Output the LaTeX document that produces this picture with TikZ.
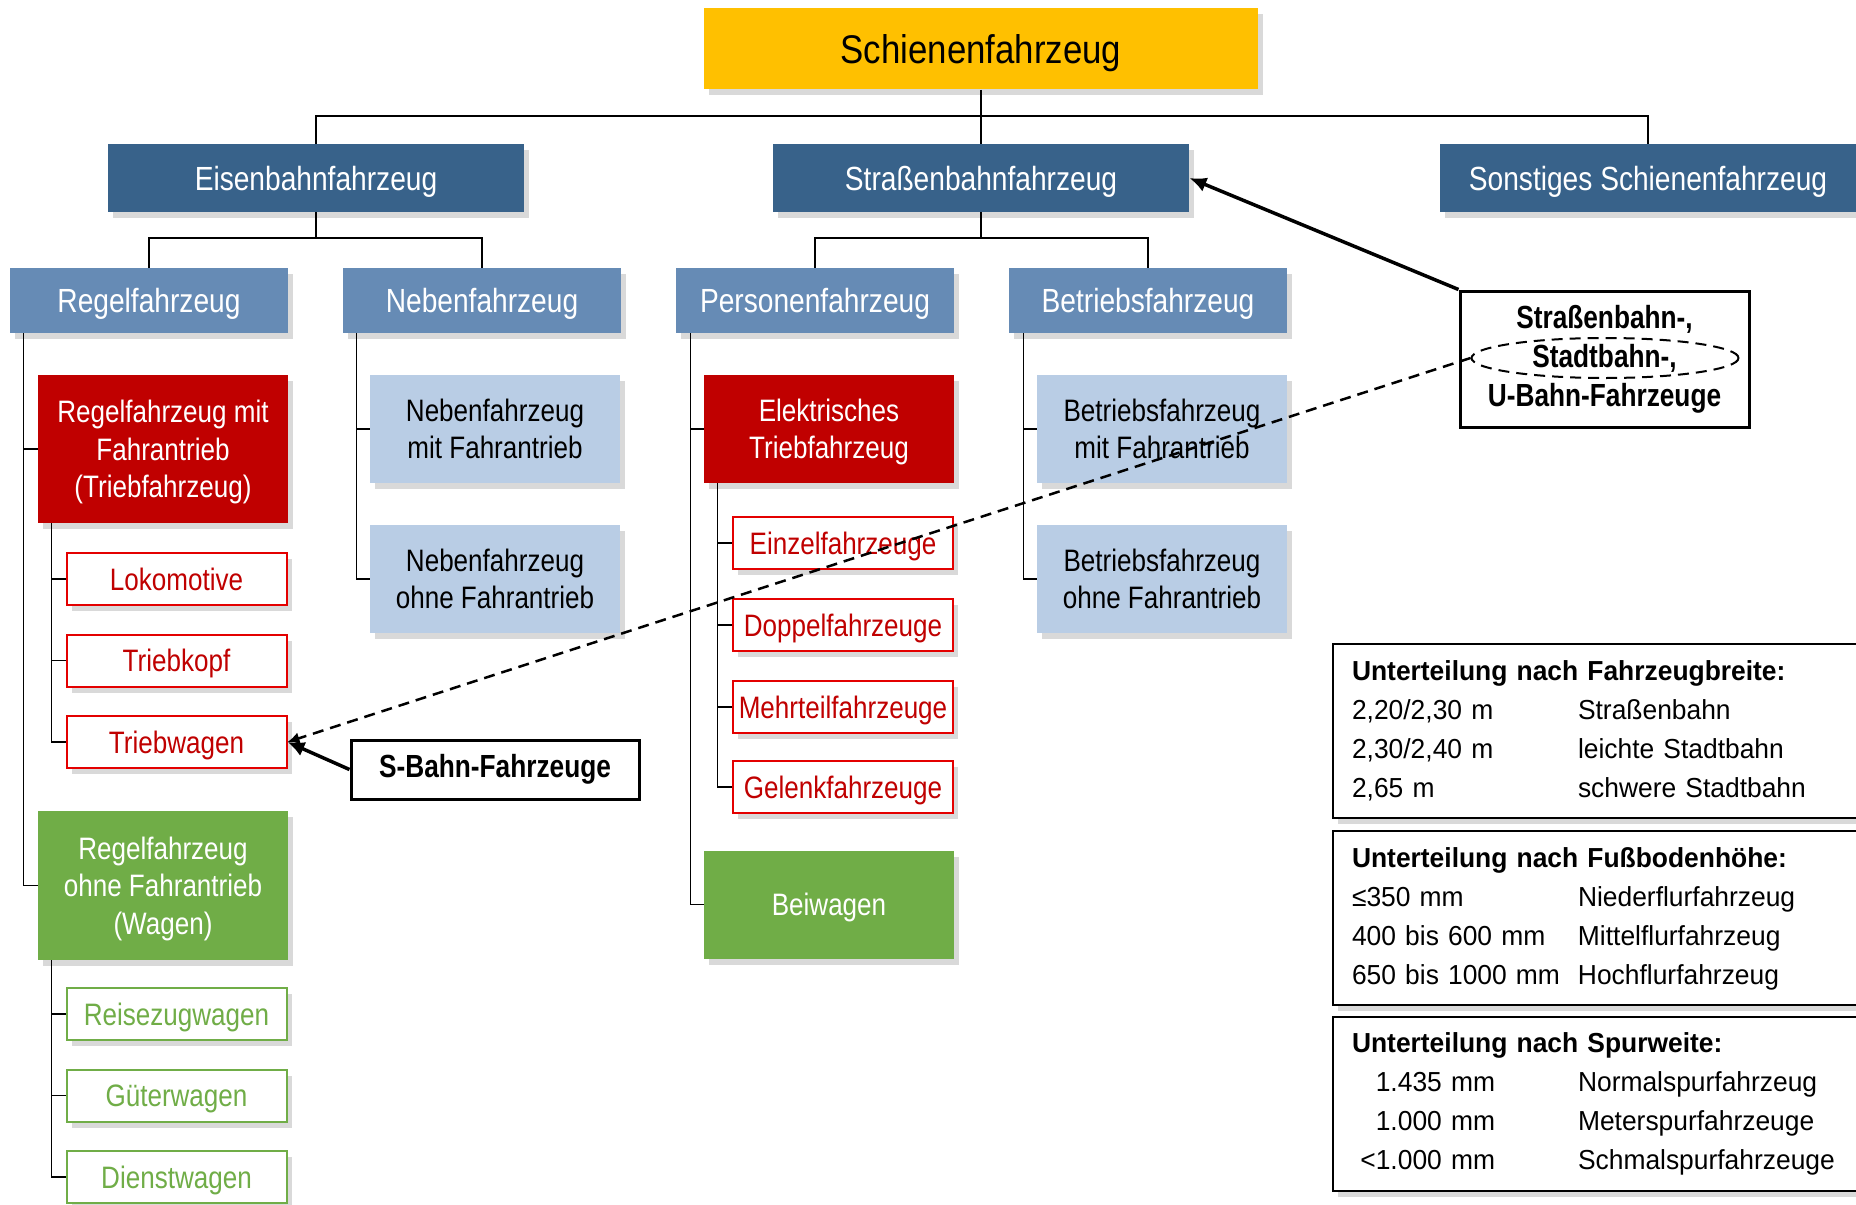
\documentclass[tikz,border=0pt]{standalone}
\usepackage{fontspec}
\setmainfont{Liberation Sans}
\newfontfamily\rootfont[FakeStretch=0.87]{Liberation Sans}
\newfontfamily\boxfont[FakeStretch=0.84]{Liberation Sans}
\newfontfamily\notefont[FakeStretch=0.82]{Liberation Sans}
\newfontfamily\legendfont[FakeStretch=0.96, WordSpace=0.8]{Liberation Sans}
\usetikzlibrary{positioning,arrows,arrows.meta,calc,shapes,shadows}

\definecolor{rootyellow}{RGB}{255,192,0}
\definecolor{darkblue}{RGB}{56,98,138}
\definecolor{midblue}{RGB}{102,139,181}
\definecolor{paleblue}{RGB}{185,205,229}
\definecolor{motorred}{RGB}{192,0,0}
\definecolor{itemred}{RGB}{228,0,0}
\definecolor{wagongreen}{RGB}{112,173,71}

\tikzset{
    >={Latex[length=8.5pt, width=7.5pt]},
    box/.style = {
        shape=rectangle,
        inner sep=0pt,
        align=center,
        text depth=0pt,
        drop shadow={shadow xshift=2.5pt, shadow yshift=-3pt, opacity=0.3}
    },
    rootbox/.style = {
        box,
        fill=rootyellow,
        minimum width=277pt,
        minimum height=40.5pt,
        font=\rootfont\fontsize{20}{24}\selectfont
    },
    mainbox/.style = {
        box,
        fill=darkblue,
        text=white,
        minimum width=208pt,
        minimum height=34pt,
        font=\boxfont\fontsize{16.75}{20}\selectfont
    },
    branchbox/.style = {
        box,
        fill=midblue,
        text=white,
        minimum width=139pt,
        minimum height=32.5pt,
        font=\boxfont\fontsize{16.75}{20}\selectfont
    },
    motorbox/.style = {
        box,
        fill=motorred,
        text=white,
        minimum width=125pt,
        minimum height=54pt,
        font=\boxfont\fontsize{15.5}{18.75}\selectfont
    },
    wagonbox/.style = {
        box,
        fill=wagongreen,
        text=white,
        minimum width=125pt,
        minimum height=54pt,
        font=\boxfont\fontsize{15.5}{18.75}\selectfont
    },
    palebox/.style = {
        box,
        fill=paleblue,
        minimum width=125pt,
        minimum height=54pt,
        font=\boxfont\fontsize{15.5}{18.75}\selectfont
    },
    motoritem/.style = {
        box,
        draw=itemred,
        line width=1pt,
        fill=white,
        text=motorred,
        minimum width=110pt,
        minimum height=26pt,
        font=\boxfont\fontsize{15.5}{18.75}\selectfont
    },
    wagonitem/.style = {
        motoritem,
        draw=wagongreen,
        text=wagongreen
    },
    notebox/.style = {
        draw,
        shape=rectangle,
        line width=1.5pt,
        fill=white,
        inner sep=0pt,
        align=center,
        font=\notefont\bfseries\fontsize{16}{19.5}\selectfont
    },
    legendbox/.style = {
        draw,
        shape=rectangle,
        line width=1pt,
        fill=white,
        anchor=north west,
        minimum width=274pt,
        minimum height=87pt,
        text width=255pt,
        inner xsep=9.5pt,
        inner ysep=0pt,
        align=left,
        drop shadow={shadow xshift=2.5pt, shadow yshift=-3pt, opacity=0.3},
        font=\legendfont\fontsize{13.75}{19.5}\selectfont
    },
    link/.style = {
        draw,
        line width=0.8pt
    },
    hint/.style = {
        dash pattern=on 5.5pt off 3.5pt
    }
}

\begin{document}
\begin{tikzpicture}[x=0.5pt, y=-0.5pt]
            \useasboundingbox (0,0) rectangle (1856,1204);

            \node[rootbox] (schiene) at (981,49) {Schienenfahrzeug};
            \node[mainbox] (eisen) at (316,178) {Eisenbahnfahrzeug};
            \node[mainbox] (strassen) at (981,178) {Straßenbahnfahrzeug};
            \node[mainbox] (sonst) at (1648,178) {Sonstiges Schienenfahrzeug};

            \node[branchbox] (regel) at (149,300.5) {Regelfahrzeug};
            \node[branchbox] (neben) at (482,300.5) {Nebenfahrzeug};
            \node[branchbox] (personen) at (815,300.5) {Personenfahrzeug};
            \node[branchbox] (betrieb) at (1148,300.5) {Betriebsfahrzeug};

            \node[motorbox, minimum height=74pt] (triebfz) at (163,449) {Regelfahrzeug mit\\Fahrantrieb\\(Triebfahrzeug)};
            \node[motoritem] (lok) at (176.5,579) {Lokomotive};
            \node[motoritem] (kopf) at (176.5,660.5) {Triebkopf};
            \node[motoritem] (triebwagen) at (176.5,742) {Triebwagen};
            \node[wagonbox, minimum height=74.5pt] (wagen) at (163,885.5) {Regelfahrzeug\\ohne Fahrantrieb\\(Wagen)};
            \node[wagonitem] (reise) at (176.5,1014) {Reisezugwagen};
            \node[wagonitem] (gueter) at (176.5,1095.5) {Güterwagen};
            \node[wagonitem] (dienst) at (176.5,1177) {Dienstwagen};

            \node[palebox] (nebenmit) at (495,429) {Nebenfahrzeug\\mit Fahrantrieb};
            \node[palebox] (nebenohne) at (495,579) {Nebenfahrzeug\\ohne Fahrantrieb};

            \node[motorbox] (elektro) at (829,429) {Elektrisches\\Triebfahrzeug};
            \node[motoritem] (einzel) at (843,543) {Einzelfahrzeuge};
            \node[motoritem] (doppel) at (843,625) {Doppelfahrzeuge};
            \node[motoritem] (mehrteil) at (843,707) {Mehrteilfahrzeuge};
            \node[motoritem] (gelenk) at (843,787) {Gelenkfahrzeuge};
            \node[wagonbox] (beiwagen) at (829,904.5) {Beiwagen};

            \node[palebox] (betriebmit) at (1162,429) {Betriebsfahrzeug\\mit Fahrantrieb};
            \node[palebox] (betriebohne) at (1162,579) {Betriebsfahrzeug\\ohne Fahrantrieb};

            \coordinate (bus0) at (981,116);
            \coordinate (bus1) at (316,238);
            \coordinate (bus2) at (981,238);

            \path[link] (schiene.south) -- (strassen.north);
            \path[link] (eisen.north) |- (bus0) -| (sonst.north);
            \path[link] (eisen.south) -- (bus1);
            \path[link] (regel.north) |- (bus1) -| (neben.north);
            \path[link] (strassen.south) -- (bus2);
            \path[link] (personen.north) |- (bus2) -| (betrieb.north);

            \path[link] ([xshift=7pt]regel.south west) |- (triebfz.west);
            \path[link] ([xshift=7pt]regel.south west) |- (wagen.west);
            \path[link] ([xshift=7pt]triebfz.south west) |- (lok.west);
            \path[link] ([xshift=7pt]triebfz.south west) |- (kopf.west);
            \path[link] ([xshift=7pt]triebfz.south west) |- (triebwagen.west);
            \path[link] ([xshift=7pt]wagen.south west) |- (reise.west);
            \path[link] ([xshift=7pt]wagen.south west) |- (gueter.west);
            \path[link] ([xshift=7pt]wagen.south west) |- (dienst.west);

            \path[link] ([xshift=7pt]neben.south west) |- (nebenmit.west);
            \path[link] ([xshift=7pt]neben.south west) |- (nebenohne.west);

            \path[link] ([xshift=7.5pt]personen.south west) |- (elektro.west);
            \path[link] ([xshift=7.5pt]personen.south west) |- (beiwagen.west);
            \path[link] ([xshift=7pt]elektro.south west) |- (einzel.west);
            \path[link] ([xshift=7pt]elektro.south west) |- (doppel.west);
            \path[link] ([xshift=7pt]elektro.south west) |- (mehrteil.west);
            \path[link] ([xshift=7pt]elektro.south west) |- (gelenk.west);

            \path[link] ([xshift=7.5pt]betrieb.south west) |- (betriebmit.west);
            \path[link] ([xshift=7.5pt]betrieb.south west) |- (betriebohne.west);

            \node[legendbox] (breite) at (1332,643) {%
                \begin{tabular}{@{}p{113pt}@{}l@{}}
                    \multicolumn{2}{@{}l@{}}{\bfseries Unterteilung nach Fahrzeugbreite:}\\
                    2,20/2,30 m & Straßenbahn\\
                    2,30/2,40 m & leichte Stadtbahn\\
                    2,65 m & schwere Stadtbahn
                \end{tabular}};
            \node[legendbox] (boden) at (1332,830) {%
                \begin{tabular}{@{}p{113pt}@{}l@{}}
                    \multicolumn{2}{@{}l@{}}{\bfseries Unterteilung nach Fußbodenhöhe:}\\
                    ≤350 mm & Niederflurfahrzeug\\
                    400 bis 600 mm & Mittelflurfahrzeug\\
                    650 bis 1000 mm & Hochflurfahrzeug
                \end{tabular}};
            \node[legendbox] (spur) at (1332,1015.5) {%
                \begin{tabular}{@{}p{113pt}@{}l@{}}
                    \multicolumn{2}{@{}l@{}}{\bfseries Unterteilung nach Spurweite:}\\
                    \makebox[71.5pt][r]{1.435 mm} & Normalspurfahrzeug\\
                    \makebox[71.5pt][r]{1.000 mm} & Meterspurfahrzeuge\\
                    \makebox[71.5pt][r]{<1.000 mm} & Schmalspurfahrzeuge
                \end{tabular}};

            \node[notebox, minimum width=144.5pt, minimum height=68pt] (tram) at (1604.5,359) {Straßenbahn-,\\Stadtbahn-,\\U-Bahn-Fahrzeuge};
            \node[draw, ellipse, line width=1pt, hint, minimum width=133.5pt, minimum height=20pt] (oval) at (1605,358) {};
            \node[notebox, minimum width=144pt, minimum height=29.5pt] (sbahn) at (495,769.5) {S-Bahn-Fahrzeuge};

            \path[draw, ->, line width=1.75pt] (tram.north west) -- (strassen.east);
            \path[draw, ->, line width=1.75pt] (sbahn.west) -- (triebwagen.east);
            \path[draw, -{Latex[length=6pt, width=6pt]}, line width=1.25pt, hint] (oval.west) -- (triebwagen.east);

        \end{tikzpicture}
\end{document}
